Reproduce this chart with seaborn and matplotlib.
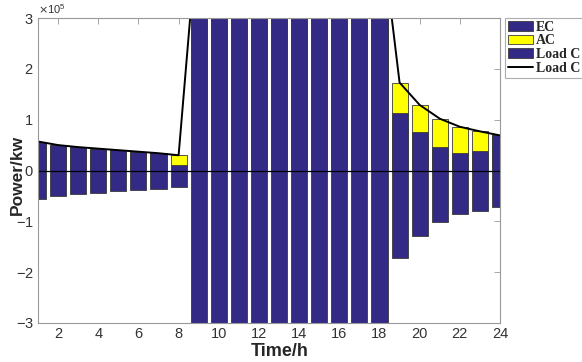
import matplotlib
matplotlib.use("Agg")
import matplotlib.pyplot as plt
import seaborn as sns
import pandas as pd
from matplotlib.patches import Patch
from matplotlib.lines import Line2D
from matplotlib.ticker import ScalarFormatter

hours = list(range(1, 25))
ec = [0.57, 0.50, 0.46, 0.43, 0.40, 0.37, 0.34, 0.10,
      5.0, 5.0, 5.0, 5.0, 5.0, 5.0, 5.0, 5.0, 5.0, 5.0,
      1.14, 0.75, 0.47, 0.35, 0.39, 0.69]
ac = [0, 0, 0, 0, 0, 0, 0, 0.20,
      0, 0, 0, 0, 0, 0, 0, 0, 0, 0,
      0.59, 0.54, 0.55, 0.51, 0.38, 0.0]
load_c = [-0.57, -0.50, -0.46, -0.44, -0.41, -0.38, -0.36, -0.32,
          -5.0, -5.0, -5.0, -5.0, -5.0, -5.0, -5.0, -5.0, -5.0, -5.0,
          -1.73, -1.29, -1.01, -0.86, -0.79, -0.71]
load_line = [0.57, 0.50, 0.46, 0.43, 0.40, 0.37, 0.34, 0.30,
             5.0, 5.0, 5.0, 5.0, 5.0, 5.0, 5.0, 5.0, 5.0, 5.0,
             1.73, 1.29, 1.02, 0.86, 0.77, 0.69]
scale = 1e5
legend_labels = ["EC", "AC", "Load C", "Load C"]

df = pd.DataFrame({
    "hour": hours,
    "ec": [v * scale for v in ec],
    "total": [(a + b) * scale for a, b in zip(ec, ac)],
    "load": [v * scale for v in load_c],
    "line": [v * scale for v in load_line],
})

blue = "#332a86"
yellow = "#ffff00"
edge = "#3a3a3a"

sns.set_style("white")
plt.rcParams["font.family"] = ["Liberation Sans", "DejaVu Sans"]
plt.rcParams["axes.unicode_minus"] = False

fig = plt.figure(figsize=(5.82, 3.62), dpi=100)
ax = fig.add_axes([38 / 582, 1 - 323 / 362, (500 - 38) / 582, (323 - 18) / 362])

common = dict(data=df, x="hour", native_scale=True, width=0.8, saturation=1,
              errorbar=None, edgecolor=edge, linewidth=0.6, ax=ax)
sns.barplot(y="total", color=yellow, **common)
sns.barplot(y="ec", color=blue, **common)
sns.barplot(y="load", color=blue, **common)
sns.lineplot(data=df, x="hour", y="line", color="black", linewidth=1.4, ax=ax)
ax.axhline(0, color="black", linewidth=0.9)

ax.set_xlim(1, 24)
ax.set_ylim(-3e5, 3e5)
ax.set_xticks(list(range(2, 25, 2)))
ax.set_yticks([-3e5, -2e5, -1e5, 0, 1e5, 2e5, 3e5])
fmt = ScalarFormatter(useMathText=True)
fmt.set_powerlimits((0, 0))
ax.yaxis.set_major_formatter(fmt)
ax.yaxis.get_offset_text().set_fontsize(8)
ax.yaxis.get_offset_text().set_color("#333333")

ax.tick_params(direction="in", length=4, width=0.6, top=True, right=True,
               colors="#999999", labelcolor="#333333", labelsize=10.5, pad=3)
for s in ax.spines.values():
    s.set_color("#999999")
    s.set_linewidth(0.8)

ax.set_xlabel("Time/h", fontsize=13, fontweight="bold")
ax.set_ylabel("Power/kw", fontsize=12.5, fontweight="bold")
ax.xaxis.set_label_coords((280 - 38) / 462, (323 - 352) / 305)
ax.xaxis.label.set_va("center")
ax.yaxis.set_label_coords((17 - 38) / 462, (323 - 175) / 305)
ax.yaxis.label.set_va("center")

handles = [Patch(facecolor=blue, edgecolor=edge, linewidth=0.6),
           Patch(facecolor=yellow, edgecolor=edge, linewidth=0.6),
           Patch(facecolor=blue, edgecolor=edge, linewidth=0.6),
           Line2D([0], [0], color="black", linewidth=1.4)]
leg = fig.legend(handles, legend_labels, loc="upper left",
                 bbox_to_anchor=(505 / 582, 1 - 18 / 362),
                 prop={"family": "Liberation Serif", "weight": "bold", "size": 10},
                 frameon=True, fancybox=False, edgecolor="#999999",
                 borderpad=0.2, labelspacing=0.05, handlelength=1.8,
                 handletextpad=0.2, borderaxespad=0)
leg.get_frame().set_linewidth(0.8)

fig.savefig("out.png", dpi=100)
